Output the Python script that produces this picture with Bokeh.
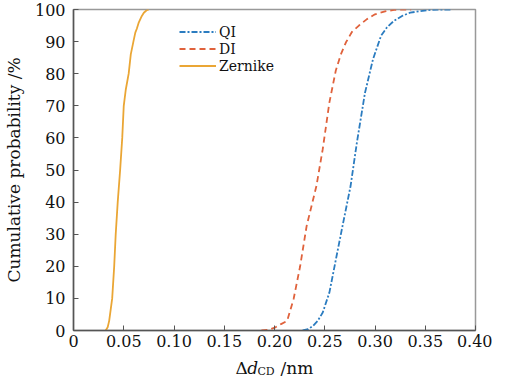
from bokeh.plotting import figure
from bokeh.models import FixedTicker, Legend, LegendItem, Label
from bokeh.layouts import column
from bokeh.embed import file_html
from bokeh.resources import INLINE

qi_x = [0.228, 0.2335, 0.2385, 0.243, 0.248, 0.2546, 0.261, 0.2677, 0.2757, 0.282, 0.290,
        0.298, 0.306, 0.312, 0.319, 0.327, 0.335, 0.345, 0.355, 0.365, 0.376]
qi_y = [0, 0.4, 1.5, 3, 5.6, 11.8, 22, 32.6, 45, 58.6, 74, 84.5, 91.8, 94.5, 96.5, 98, 99,
        99.5, 99.9, 100, 100]

di_x = [0.187, 0.195, 0.201, 0.2065, 0.2126, 0.219, 0.2255, 0.232, 0.2417, 0.248, 0.2546,
        0.261, 0.266, 0.271, 0.277, 0.284, 0.292, 0.300, 0.310, 0.319, 0.336]
di_y = [0, 0.3, 1, 2, 3, 9.8, 20, 32.6, 45, 56.5, 71, 81, 86, 89.7, 93, 95, 97, 98.5, 99.4,
        99.9, 100]

zer_x = [0.032, 0.034, 0.0355, 0.0385, 0.0405, 0.042, 0.044, 0.0464, 0.0485, 0.050, 0.052,
         0.0549, 0.057, 0.0596, 0.0615, 0.063, 0.065, 0.068, 0.070, 0.0725, 0.0748]
zer_y = [0, 1, 3, 10, 20, 30, 40, 50, 60, 70, 75, 80, 86, 90, 92.8, 94, 96, 98, 99, 99.7, 100]

x_ticks = [0, 0.05, 0.10, 0.15, 0.20, 0.25, 0.30, 0.35, 0.40]
x_tick_labels = ["0", "0.05", "0.10", "0.15", "0.20", "0.25", "0.30", "0.35", "0.40"]
y_ticks = [0, 10, 20, 30, 40, 50, 60, 70, 80, 90, 100]

FONT = "DejaVu Serif"

p = figure(width=492, height=358, x_range=(0, 0.4), y_range=(0, 100),
           output_backend="svg", toolbar_location=None,
           min_border_left=63, min_border_right=17, min_border_top=9, min_border_bottom=28)

p.grid.visible = False
p.outline_line_color = "#999999"
p.outline_line_width = 1.5

for ax in (p.xaxis[0], p.yaxis[0]):
    ax.axis_line_color = "#555555"
    ax.axis_line_width = 1.5
    ax.major_tick_in = 5
    ax.major_tick_out = 0
    ax.major_tick_line_color = "#555555"
    ax.minor_tick_line_color = None
    ax.major_label_text_font = FONT
    ax.major_label_text_font_size = "16px"
    ax.major_label_text_color = "#111111"

p.xaxis.ticker = FixedTicker(ticks=x_ticks)
p.xaxis.major_label_overrides = {t: l for t, l in zip(x_ticks, x_tick_labels)}
p.xaxis.major_label_standoff = 4
p.yaxis.ticker = FixedTicker(ticks=y_ticks)
p.yaxis.major_label_standoff = 8

p.yaxis.axis_label = "Cumulative probability /%"
p.yaxis.axis_label_text_font = FONT
p.yaxis.axis_label_text_font_style = "normal"
p.yaxis.axis_label_text_font_size = "17px"
p.yaxis.axis_label_text_color = "#111111"
p.yaxis.axis_label_standoff = 8

r_qi = p.line(qi_x, qi_y, line_color="#2b7cc0", line_width=1.8, line_dash="6 2 2 2")
r_di = p.line(di_x, di_y, line_color="#e0623c", line_width=1.8, line_dash="6 4")
r_zer = p.line(zer_x, zer_y, line_color="#eaa635", line_width=1.8)

legend = Legend(items=[LegendItem(label="QI", renderers=[r_qi]),
                       LegendItem(label="DI", renderers=[r_di]),
                       LegendItem(label="Zernike", renderers=[r_zer])],
                location=(106, 256), orientation="vertical")
legend.background_fill_alpha = 0
legend.border_line_color = None
legend.label_text_font = FONT
legend.label_text_font_size = "14px"
legend.label_text_color = "#111111"
legend.glyph_width = 37
legend.glyph_height = 17
legend.label_height = 17
legend.label_standoff = 3
legend.spacing = 0
legend.padding = 2
legend.margin = 0
p.add_layout(legend)

# x-axis label strip: "Δd_CD /nm" composed from pieces, in its own small figure
q = figure(width=492, height=19, x_range=p.x_range, y_range=(0, 19),
           output_backend="svg", toolbar_location=None,
           min_border_left=63, min_border_right=17, min_border_top=0, min_border_bottom=0)
q.axis.visible = False
q.grid.visible = False
q.outline_line_color = None

lab_kw = dict(text_font=FONT, text_color="#111111", text_baseline="alphabetic")
q.add_layout(Label(x=0.1612, y=10, text="Δ", text_font_size="17px", **lab_kw))
q.add_layout(Label(x=0.1728, y=10, text="d", text_font_size="17px",
                   text_font_style="italic", **lab_kw))
q.add_layout(Label(x=0.1830, y=6, text="CD", text_font_size="11px", **lab_kw))
q.add_layout(Label(x=0.2060, y=10, text="/nm", text_font_size="17px", **lab_kw))

layout = column(p, q, spacing=0)
open("out.html", "w").write(file_html(layout, INLINE))
